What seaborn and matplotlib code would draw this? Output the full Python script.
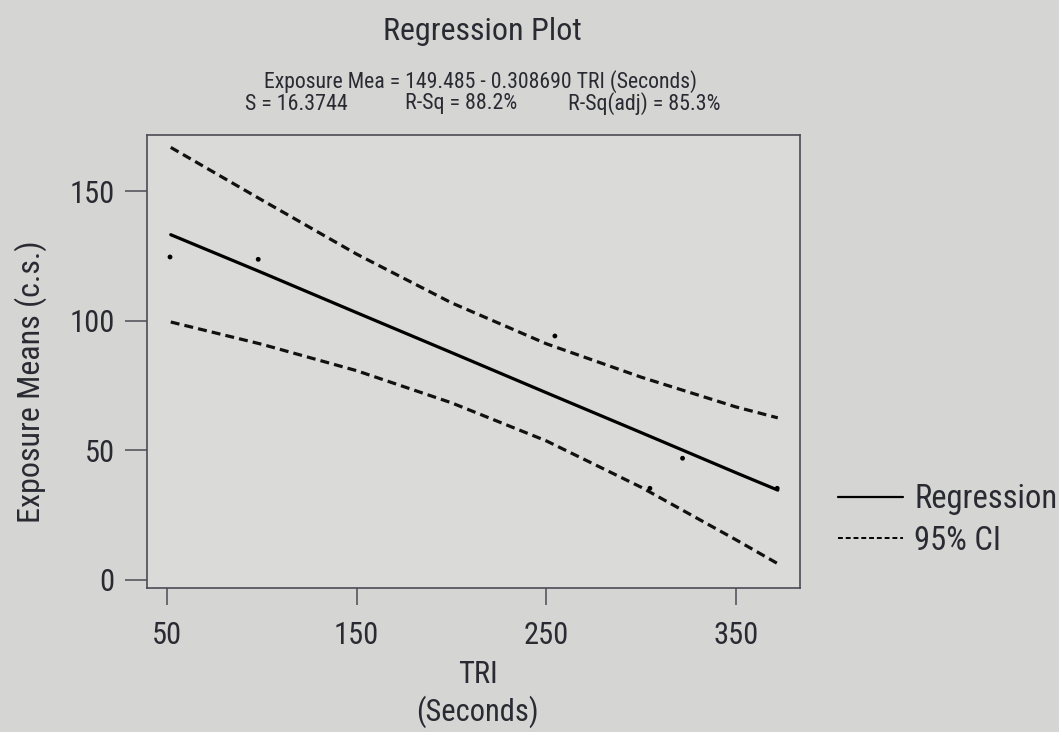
"""
Regression Plot: Exposure Means vs TRI (Seconds), fitted line with 95% CI
"""
import pandas as pd
import matplotlib.pyplot as plt
import seaborn as sns
from matplotlib.lines import Line2D

# observed points
tri_obs = [51.6, 98.1, 254.5, 304.6, 321.8, 371.7]
exp_obs = [124.7, 123.8, 94.2, 35.4, 47.0, 35.4]

# fitted line and CI bands
tri_fit = [52, 100, 150, 200, 250, 300, 350, 372]
exp_fit = [133.3, 118.7, 103.2, 87.8, 72.3, 56.9, 41.4, 34.7]
ci_upper = [167.0, 146.7, 125.8, 107.0, 91.2, 78.3, 66.8, 62.6]
ci_lower = [99.6, 91.0, 80.8, 68.4, 53.7, 35.8, 15.5, 6.3]

xticks = [50, 150, 250, 350]
yticks = [0, 50, 100, 150]

BG = "#d5d5d3"
AX_BG = "#dadad8"
INK = "#2a2a33"
FRAME = "#4b4b55"
FONT = ["Liberation Sans Narrow", "Roboto Condensed", "Liberation Sans", "DejaVu Sans"]

sns.set_theme(style="ticks")
plt.rcParams["font.family"] = FONT
plt.rcParams["text.color"] = INK
plt.rcParams["axes.labelcolor"] = INK
plt.rcParams["xtick.color"] = FRAME
plt.rcParams["ytick.color"] = FRAME
plt.rcParams["xtick.labelcolor"] = INK
plt.rcParams["ytick.labelcolor"] = INK

obs = pd.DataFrame({"tri": tri_obs, "exposure": exp_obs})
fit = pd.DataFrame({"tri": tri_fit, "fit": exp_fit, "upper": ci_upper, "lower": ci_lower})

fig = plt.figure(figsize=(10.59, 7.32), dpi=100, facecolor=BG)
ax = fig.add_axes([0.1385, 0.1967, 0.6169, 0.6189])
ax.set_facecolor(AX_BG)

sns.lineplot(data=fit, x="tri", y="fit", ax=ax, color="black", lw=2.3,
             errorbar=None, legend=False)
for col in ["upper", "lower"]:
    sns.lineplot(data=fit, x="tri", y=col, ax=ax, color="#111111", lw=2.3,
                 errorbar=None, legend=False)
    ax.lines[-1].set_dashes((2.8, 1.6))
sns.scatterplot(data=obs, x="tri", y="exposure", ax=ax, color="black",
                s=12, edgecolor="none", zorder=3, legend=False)

ax.set_xlim(39.3, 383.7)
ax.set_ylim(-3.1, 171.8)
ax.set_xticks(xticks)
ax.set_yticks(yticks)
ax.tick_params(axis="y", length=16, width=1.1, pad=7, labelsize=22)
ax.tick_params(axis="x", length=12, width=1.1, pad=12, labelsize=22)
for sp in ax.spines.values():
    sp.set_color(FRAME)
    sp.set_linewidth(1.2)

ax.set_ylabel("Exposure Means (c.s.)", fontsize=23)
ax.yaxis.set_label_coords(-0.152, 0.455)
ax.set_xlabel("TRI\n(Seconds)", fontsize=22, linespacing=1.25)
ax.xaxis.set_label_coords(0.507, -0.158)

# header texts
fig.text(482.5 / 1059, 1 - 32 / 732, "Regression Plot", fontsize=23,
         ha="center", va="center")
fig.text(481 / 1059, 1 - 82 / 732, "Exposure Mea = 149.485 - 0.308690 TRI (Seconds)",
         fontsize=15.7, ha="center", va="center")
fig.text(245 / 1059, 1 - 104 / 732, "S = 16.3744", fontsize=15.8, ha="left", va="center")
fig.text(405 / 1059, 1 - 104 / 732, "R-Sq = 88.2%", fontsize=15.8, ha="left", va="center")
fig.text(568 / 1059, 1 - 104 / 732, "R-Sq(adj) = 85.3%", fontsize=15.8, ha="left", va="center")

handles = [Line2D([], [], color="black", lw=1.6),
           Line2D([], [], color="black", lw=1.4, dashes=(2.5, 1.5))]
fig.legend(handles, ["Regression", "95% CI"], loc="upper left",
           bbox_to_anchor=(838 / 1059, 1 - 483 / 732), frameon=False,
           fontsize=23.5, handlelength=2.0, handletextpad=0.33,
           labelspacing=0.3, borderpad=0, borderaxespad=0)

plt.savefig("out.png", dpi=100, facecolor=BG)
plt.close()
